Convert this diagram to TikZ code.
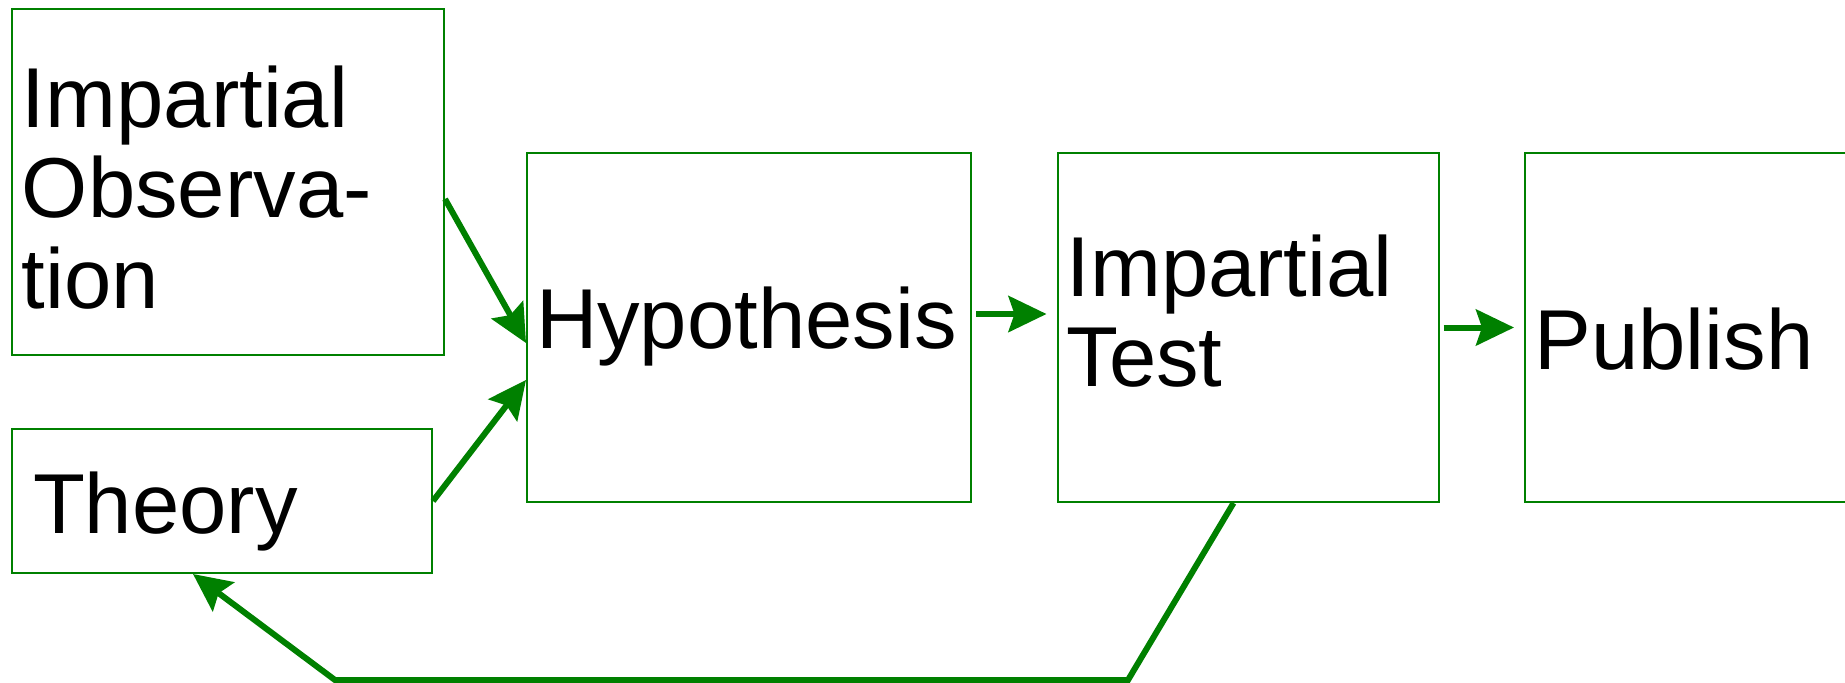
\documentclass[tikz,border=0pt]{standalone}
\usepackage{fontspec}
\setmainfont{Liberation Sans}
\usepackage{tikz}
\usetikzlibrary{arrows.meta,positioning}
\definecolor{flowgreen}{RGB}{0,128,0}

\begin{document}
\begin{tikzpicture}[
    stage/.style={draw=flowgreen, line width=0.04cm, rectangle, inner sep=0pt,
      align=left, text=black, font=\fontsize{48.4}{51.5}\selectfont},
    flow/.style={draw=flowgreen, line width=0.12cm,
      -{Stealth[length=0.76cm,width=0.72cm,inset=0.12cm]}}
  ]
    \useasboundingbox (0,0) rectangle (36.9,-13.64);
    % Entradas a la izquierda
    \node[stage, minimum width=8.64cm, minimum height=6.92cm, text width=8.24cm,
      text height=1.3cm, text depth=3.5cm] (obs) at (4.56,-3.64)
      {Impartial\\Observa-\\tion};
    \node[stage, minimum width=8.40cm, minimum height=2.88cm, text width=7.56cm,
      text height=1.6cm, text depth=0.32cm] (theory) at (4.44,-10.02) {Theory};
    % Cadena principal
    \node[stage, minimum width=8.88cm, minimum height=6.98cm, text width=8.52cm,
      text height=1.3cm, text depth=0.46cm] (hyp) at (14.98,-6.55) {Hypothesis};
    \node[stage, right=1.69cm of hyp, minimum width=7.62cm, minimum height=6.98cm,
      text width=7.26cm, text height=1.3cm, text depth=2.56cm] (test)
      {Impartial\\Test};
    \node[stage, right=1.69cm of test, minimum width=8.02cm, minimum height=6.98cm,
      text width=7.64cm, text height=1.8cm, text depth=0.14cm] (pub) {Publish};
    % Flechas
    \draw[flow] ([yshift=-0.34cm]obs.east) -- ([yshift=-0.31cm]hyp.west);
    \draw[flow] (theory.east) -- ([yshift=-1.05cm]hyp.west);
    \draw[flow, shorten <=0.08cm, shorten >=0.2cm]
      ([yshift=0.27cm]hyp.east) -- ([yshift=0.27cm]test.west);
    \draw[flow, shorten <=0.08cm, shorten >=0.2cm] (test.east) -- (pub.west);
    % Retorno a la teoria
    \coordinate (backR) at (22.56,-13.6);
    \coordinate (backL) at (6.70,-13.6);
    \draw[flow] ([xshift=-0.29cm]test.south) -- (backR) -- (backL)
      -- ([xshift=-0.58cm]theory.south);
\end{tikzpicture}
\end{document}
